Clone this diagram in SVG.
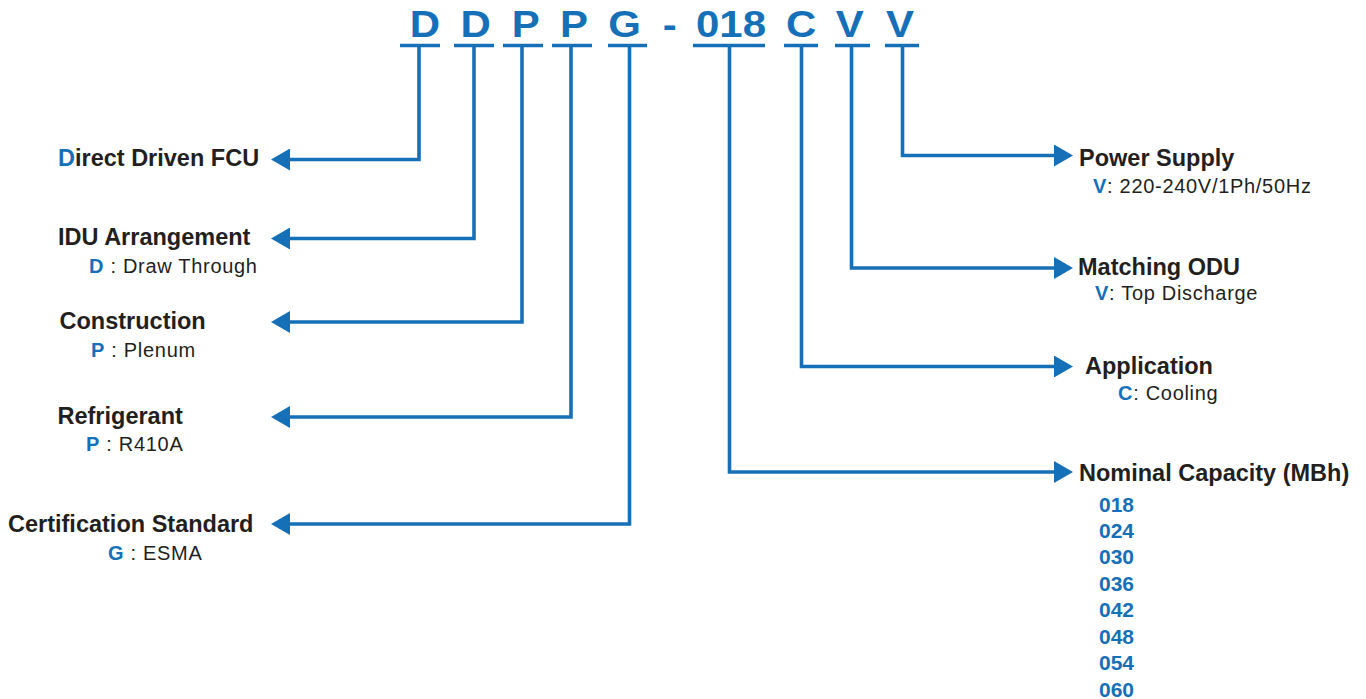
<svg xmlns="http://www.w3.org/2000/svg" width="1366" height="699" viewBox="0 0 1366 699">
  <defs>
    <style>
      .code { font-family: "Liberation Sans", Arial, sans-serif; font-weight: bold; font-size: 37.5px; fill: #1670b8; text-anchor: middle; }
      .bar { stroke: #1670b8; stroke-width: 3.5; fill: none; }
      .wire { stroke: #1670b8; stroke-width: 3.6; fill: none; stroke-linejoin: miter; }
      .title { font-family: "Liberation Sans", Arial, sans-serif; font-weight: bold; font-size: 23.5px; fill: #231f20; }
      .sub { font-family: "Liberation Sans", Arial, sans-serif; font-size: 20px; fill: #231f20; letter-spacing: 0.7px; }
      .key { font-weight: bold; fill: #1670b8; }
      .num { font-family: "Liberation Sans", Arial, sans-serif; font-weight: bold; font-size: 21px; fill: #1670b8; }
    </style>
    <marker id="arrow" viewBox="0 0 19 22" refX="10" refY="11" markerWidth="19" markerHeight="22" markerUnits="userSpaceOnUse" orient="auto">
      <path d="M0,0 L19,11 L0,22 Z" fill="#1670b8"/>
    </marker>
  </defs>

  <rect width="1366" height="699" fill="#ffffff"/>

  <!-- model code characters -->
  <g id="model-code">
    <g transform="scale(1.12 1)">
      <text class="code" x="379.5" y="37.5">D</text>
      <text class="code" x="424.8" y="37.5">D</text>
      <text class="code" x="469.5" y="37.5">P</text>
      <text class="code" x="512.4" y="37.5">P</text>
      <text class="code" x="557.6" y="37.5">G</text>
      <text class="code" x="597.9" y="37.5">-</text>
      <text class="code" x="652.7" y="37.5">018</text>
      <text class="code" x="715.4" y="37.5">C</text>
      <text class="code" x="758.8" y="37.5">V</text>
      <text class="code" x="803.6" y="37.5">V</text>
    </g>
    <path class="bar" d="M400 45.5H440 M454 45.5H494 M503 45.5H543 M552 45.5H592 M608 45.5H647 M693 45.5H765 M784 45.5H818 M835 45.5H870 M885 45.5H919"/>
  </g>

  <!-- connectors from each code character to its legend -->
  <g id="connectors">
    <path class="wire" d="M419 45.5V159.5H280" marker-end="url(#arrow)"/>
    <path class="wire" d="M474 45.5V238.5H280" marker-end="url(#arrow)"/>
    <path class="wire" d="M522 45.5V322H280" marker-end="url(#arrow)"/>
    <path class="wire" d="M571 45.5V417H280" marker-end="url(#arrow)"/>
    <path class="wire" d="M629.5 45.5V524H280" marker-end="url(#arrow)"/>
    <path class="wire" d="M729.5 45.5V472H1064" marker-end="url(#arrow)"/>
    <path class="wire" d="M801.5 45.5V366.5H1064" marker-end="url(#arrow)"/>
    <path class="wire" d="M851.5 45.5V268H1064" marker-end="url(#arrow)"/>
    <path class="wire" d="M902.5 45.5V155.5H1064" marker-end="url(#arrow)"/>
  </g>

  <!-- left legends -->
  <g id="fcu-type">
    <text class="title" x="58" y="166"><tspan fill="#1670b8">D</tspan>irect Driven FCU</text>
  </g>
  <g id="idu-arrangement">
    <text class="title" x="58" y="245">IDU Arrangement</text>
    <text class="sub" x="89" y="273"><tspan class="key">D</tspan> : Draw Through</text>
  </g>
  <g id="construction">
    <text class="title" x="59.5" y="329">Construction</text>
    <text class="sub" x="91" y="357"><tspan class="key">P</tspan> : Plenum</text>
  </g>
  <g id="refrigerant">
    <text class="title" x="57.5" y="424">Refrigerant</text>
    <text class="sub" x="86" y="451"><tspan class="key">P</tspan> : R410A</text>
  </g>
  <g id="certification">
    <text class="title" x="8" y="532">Certification Standard</text>
    <text class="sub" x="108" y="560"><tspan class="key">G</tspan> : ESMA</text>
  </g>

  <!-- right legends -->
  <g id="power-supply">
    <text class="title" x="1079" y="166">Power Supply</text>
    <text class="sub" x="1093" y="193"><tspan class="key">V</tspan>: 220-240V/1Ph/50Hz</text>
  </g>
  <g id="matching-odu">
    <text class="title" x="1078" y="275">Matching ODU</text>
    <text class="sub" x="1095" y="300"><tspan class="key">V</tspan>: Top Discharge</text>
  </g>
  <g id="application">
    <text class="title" x="1085" y="374">Application</text>
    <text class="sub" x="1118" y="400"><tspan class="key">C</tspan>: Cooling</text>
  </g>
  <g id="nominal-capacity">
    <text class="title" x="1079" y="481">Nominal Capacity (MBh)</text>
    <text class="num" x="1099" y="511.5">018</text>
    <text class="num" x="1099" y="538">024</text>
    <text class="num" x="1099" y="564.4">030</text>
    <text class="num" x="1099" y="590.9">036</text>
    <text class="num" x="1099" y="617.3">042</text>
    <text class="num" x="1099" y="643.8">048</text>
    <text class="num" x="1099" y="670.2">054</text>
    <text class="num" x="1099" y="696.7">060</text>
  </g>
</svg>
